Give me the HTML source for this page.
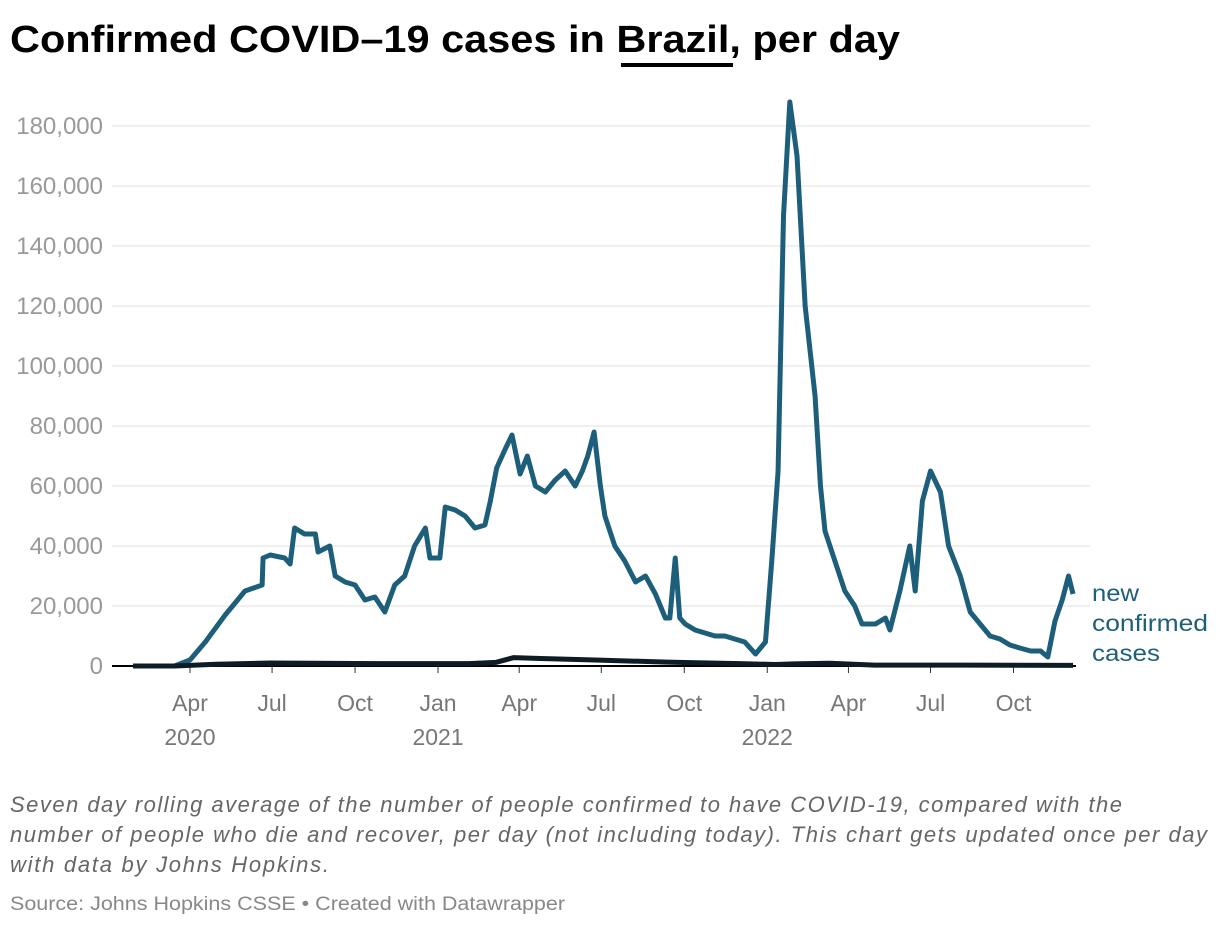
<!DOCTYPE html>
<html><head><meta charset="utf-8"><style>
body{margin:0;background:#fff;width:1220px;height:926px;overflow:hidden;font-family:"Liberation Sans",sans-serif}
</style></head><body>
<svg width="1220" height="926">
<text x="10" y="52" font-size="38" font-weight="bold" fill="#000" textLength="890" lengthAdjust="spacingAndGlyphs">Confirmed COVID–19 cases in <tspan>Brazil</tspan>, per day</text>
<rect x="621" y="63" width="112" height="4" fill="#000"/>
<g id="grid"></g><g id="xaxis"></g><g id="series"></g>
<text x="1092" y="601" font-size="23" fill="#1d5f7a" textLength="47" lengthAdjust="spacingAndGlyphs">new</text>
<text x="1092" y="631" font-size="23" fill="#1d5f7a" textLength="116" lengthAdjust="spacingAndGlyphs">confirmed</text>
<text x="1092" y="661" font-size="23" fill="#1d5f7a" textLength="68" lengthAdjust="spacingAndGlyphs">cases</text>
<g font-size="22" font-style="italic" fill="#666" lengthAdjust="spacingAndGlyphs">
<text x="10" y="812" textLength="1112">Seven day rolling average of the number of people confirmed to have COVID-19, compared with the</text>
<text x="10" y="842" textLength="1197">number of people who die and recover, per day (not including today). This chart gets updated once per day</text>
<text x="10" y="872" textLength="319">with data by Johns Hopkins.</text></g>
<text x="10" y="910" font-size="19" fill="#888" textLength="555" lengthAdjust="spacingAndGlyphs">Source: Johns Hopkins CSSE • Created with Datawrapper</text>
</svg>
<script>
const yTicks=[0,20000,40000,60000,80000,100000,120000,140000,160000,180000];
const xTickDays=[91,182,274,366,456,547,639,731,821,912,1004];
const xTickLabels=["Apr","Jul","Oct","Jan","Apr","Jul","Oct","Jan","Apr","Jul","Oct"];
const xYearLabels=["2020","","","2021","","","","2022","","",""];
const caseDays=[28,74,91,108,130,152,171,172,180,196,202,207,218,230,233,246,252,263,274,285,296,307,318,329,340,352,357,368,374,385,396,407,418,424,431,440,448,457,465,474,485,496,507,518,526,532,539,546,551,562,573,585,596,607,618,623,629,634,640,651,662,673,684,695,706,718,729,736,743,749,756,764,773,784,790,795,806,817,828,836,851,862,867,878,889,895,903,912,923,932,945,956,967,978,989,1000,1011,1023,1034,1042,1050,1058,1065,1070];
const caseValues=[0,0,2000,8000,17000,25000,27000,36000,37000,36000,34000,46000,44000,44000,38000,40000,30000,28000,27000,22000,23000,18000,27000,30000,40000,46000,36000,36000,53000,52000,50000,46000,47000,55000,66000,72000,77000,64000,70000,60000,58000,62000,65000,60000,65000,70000,78000,60000,50000,40000,35000,28000,30000,24000,16000,16000,36000,16000,14000,12000,11000,10000,10000,9000,8000,4000,8000,35000,65000,150000,188000,170000,120000,90000,60000,45000,35000,25000,20000,14000,14000,16000,12000,25000,40000,25000,55000,65000,58000,40000,30000,18000,14000,10000,9000,7000,6000,5000,5000,3000,15000,22000,30000,24000];
const otherDays=[28,74,120,180,300,400,430,450,480,540,620,700,740,760,800,850,950,1070];
const otherValues=[0,0,600,1000,800,800,1200,2800,2500,2000,1300,800,500,700,900,300,300,200];
const NS="http://www.w3.org/2000/svg";
const X=d=>107.9+d*0.902, Y=v=>666-v*0.003;
function mk(tag,at,parent){const e=document.createElementNS(NS,tag);for(const k in at)e.setAttribute(k,at[k]);parent.appendChild(e);return e;}
const grid=document.getElementById('grid'),xa=document.getElementById('xaxis'),se=document.getElementById('series');
yTicks.forEach(v=>{
 if(v>0){const l=mk('line',{x1:112,x2:1090,y1:Y(v),y2:Y(v),stroke:'#e2e2e2','stroke-width':1},grid);
 
 }
 const t=mk('text',{x:103,y:Y(v)+8,'text-anchor':'end','font-size':24,fill:'#999'},grid);
 t.textContent=v.toLocaleString('en-US');
 
 
});
xTickDays.forEach((d,i)=>{
 const tk=mk('line',{x1:X(d),x2:X(d),y1:666,y2:673,stroke:'#333','stroke-width':1},xa);
 
 
 const t=mk('text',{x:X(d),y:711,'text-anchor':'middle','font-size':23,fill:'#777'},xa);
 t.textContent=xTickLabels[i];
 
 
 if(xYearLabels[i]){const y=mk('text',{x:X(d),y:745,'text-anchor':'middle','font-size':23,fill:'#777'},xa);
 y.textContent=xYearLabels[i];
 
 }
});
const p1=mk('polyline',{points:caseDays.map((d,i)=>X(d)+','+Y(caseValues[i])).join(' '),fill:'none',stroke:'#1d5f7a','stroke-width':5,'stroke-linejoin':'round'},se);


const bl=mk('line',{x1:112,x2:1076,y1:666,y2:666,stroke:'#000','stroke-width':2},se);


const p2=mk('polyline',{points:otherDays.map((d,i)=>X(d)+','+Y(otherValues[i])).join(' '),fill:'none',stroke:'#0e1c26','stroke-width':5,'stroke-linejoin':'round'},se);


</script>
</body></html>
